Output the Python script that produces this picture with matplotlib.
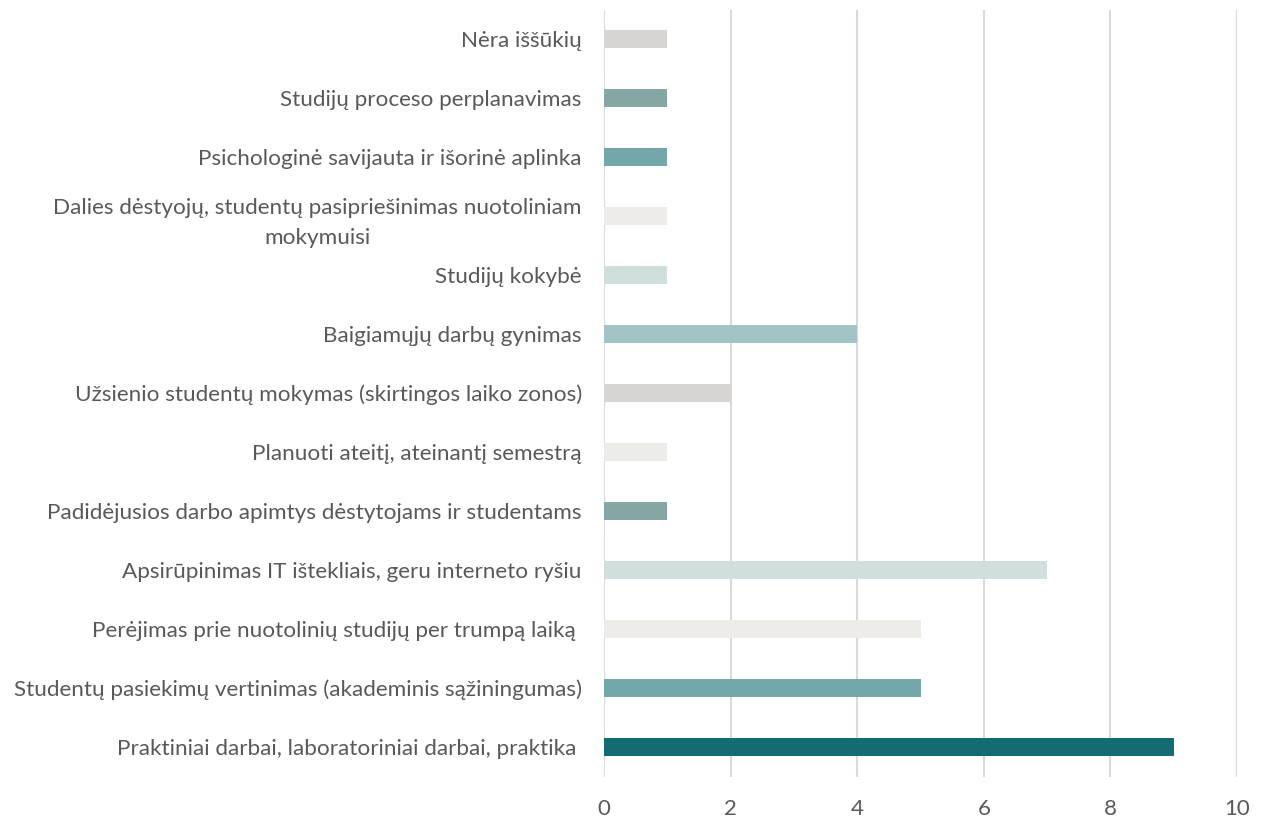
import matplotlib
matplotlib.use("Agg")
import matplotlib.pyplot as plt

categories = [
    "Praktiniai darbai, laboratoriniai darbai, praktika ",
    "Studentų pasiekimų vertinimas (akademinis sąžiningumas)",
    "Perėjimas prie nuotolinių studijų per trumpą laiką ",
    "Apsirūpinimas IT ištekliais, geru interneto ryšiu",
    "Padidėjusios darbo apimtys dėstytojams ir studentams",
    "Planuoti ateitį, ateinantį semestrą",
    "Užsienio studentų mokymas (skirtingos laiko zonos)",
    "Baigiamųjų darbų gynimas",
    "Studijų kokybė",
    "Dalies dėstyojų, studentų pasipriešinimas nuotoliniam\nmokymuisi",
    "Psichologinė savijauta ir išorinė aplinka",
    "Studijų proceso perplanavimas",
    "Nėra iššūkių",
]
values = [9, 5, 5, 7, 1, 1, 2, 4, 1, 1, 1, 1, 1]
colors = ["#136C73", "#74A7AA", "#EDECE8", "#D0DEDE", "#86A6A3", "#EDECE8",
          "#D6D5D1", "#A1C3C5", "#D0DEDE", "#EDECE8", "#74A7AA", "#86A6A3", "#D6D5D1"]
xticks = [0, 2, 4, 6, 8, 10]

plt.rcParams['font.family'] = ['Lato', 'DejaVu Sans']

fig = plt.figure(figsize=(12.66, 8.17), dpi=100)
ax = fig.add_axes([604/1266, 1-776.5/817, (1237-604)/1266, (776.5-9.5)/817])

y = list(range(len(categories)))
ax.barh(y, values, height=0.32, color=colors, zorder=3)
ax.set_xlim(0, 10)
ax.set_ylim(-0.5, len(categories)-0.5)
ax.set_xticks(xticks)
ax.set_xticklabels([str(t) for t in xticks])
ax.set_yticks(y)
ax.set_yticklabels(categories, multialignment='center', linespacing=1.65)
ax.tick_params(axis='y', length=0, pad=16, labelsize=16.2, labelcolor='#595959')
ax.tick_params(axis='x', length=0, pad=16, labelsize=16, labelcolor='#595959')
ax.grid(axis='x', color='#D9D9D9', linewidth=1.5, zorder=0)
for s in ['top', 'right', 'bottom', 'left']:
    ax.spines[s].set_visible(False)

fig.savefig("out.png", dpi=100)
